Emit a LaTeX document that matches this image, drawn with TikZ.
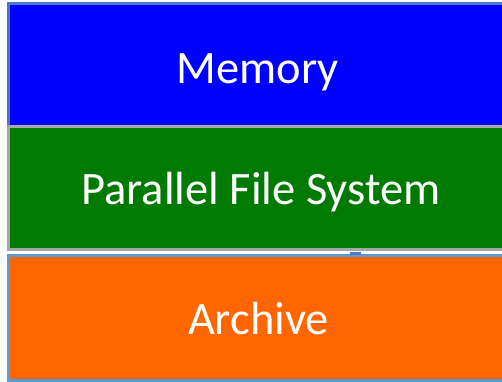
\documentclass[tikz,border=0pt]{standalone}
\usepackage{fontspec}
\setmainfont{Carlito}
\definecolor{memblue}{HTML}{0000FF}
\definecolor{pfsgreen}{HTML}{007A00}
\definecolor{archorange}{HTML}{FF6600}
\definecolor{edgeblue}{HTML}{4A78C8}
\definecolor{edgelight}{HTML}{5B9BD5}
\definecolor{edgegray}{HTML}{A6A6A6}
\tikzset{
  tier/.style={rectangle, line width=3pt, minimum width=504pt, inner sep=0pt},
  tiertext/.style={anchor=base, inner sep=0pt, text=white,
    font=\fontsize{46.5}{56}\selectfont}
}
\begin{document}
\begin{tikzpicture}[x=1pt,y=1pt]
  \useasboundingbox (0,0) rectangle (502,381);
  \clip (0,0) rectangle (502,381);
  % storage tiers, top to bottom
  \node[tier, fill=memblue, draw=edgeblue, minimum height=122pt] (mem) at (260,316) {};
  \node[tier, fill=pfsgreen, draw=edgegray, minimum height=123pt] (pfs) at (260,193) {};
  \node[tier, fill=archorange, draw=edgelight, minimum height=125pt] (arc) at (260,63.5) {};
  % tier names
  \node[tiertext] (memtxt) at (257.5,297.7) {Memory};
  \node[tiertext] (pfstxt) at (261,177) {Parallel File System};
  \node[tiertext] (arctxt) at (258.5,46.7) {Archive};
  % small tab between the lower tiers
  \fill[edgeblue] (350,126) rectangle (361,129);
\end{tikzpicture}
\end{document}
